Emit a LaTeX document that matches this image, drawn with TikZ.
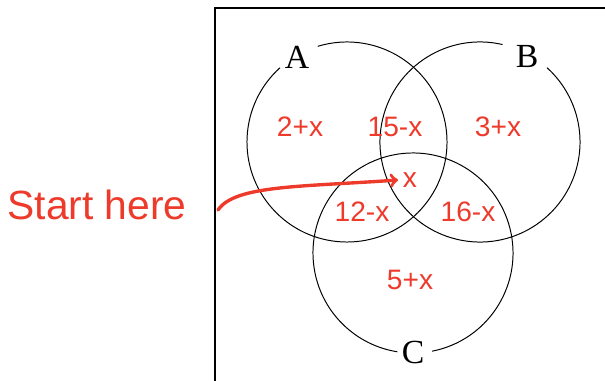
\documentclass[tikz,border=0pt]{standalone}
\usepackage{fontspec}
\setmainfont{Liberation Serif}
\setsansfont{Liberation Sans}
\definecolor{pen}{RGB}{238,58,42}
\tikzset{
  setlabel/.style={font=\fontsize{24}{28}\selectfont},
  scrawl/.style={text=pen, font=\sffamily\fontsize{20}{24}\selectfont},
  ring/.style={line width=0.7pt},
}
\begin{document}
\begin{tikzpicture}[x=0.025cm, y=0.025cm]
\useasboundingbox (0,0) rectangle (605,381);
% universal set box
\draw[line width=0.9pt] (610,373) -- (215,373) -- (215,-5);
% the three sets, each broken where its name sits
\draw[ring] (347,239) ++(132:2.5cm) arc[start angle=132, end angle=467, radius=2.5cm];
\draw[ring] (480,239) ++(77:2.5cm) arc[start angle=77, end angle=408, radius=2.5cm];
\draw[ring] (413,128) ++(281:2.5cm) arc[start angle=281, end angle=621, radius=2.5cm];
\node[setlabel] (A) at (297,324) {A};
\node[setlabel] (B) at (527,324) {B};
\node[setlabel] (C) at (413,29) {C};
% region counts
\node[scrawl] (onlyA) at (300,254) {2+x};
\node[scrawl] (AB) at (395,254) {15-x};
\node[scrawl] (onlyB) at (498,254) {3+x};
\node[scrawl] (ABC) at (410,201) {x};
\node[scrawl] (AC) at (362,169) {12-x};
\node[scrawl] (BC) at (468,169) {16-x};
\node[scrawl] (onlyC) at (410,101) {5+x};
\node[scrawl, font=\sffamily\fontsize{29}{32}\selectfont] (start) at (97,176) {Start here};
\coordinate (tail) at (218,171);
\draw[->, pen, line width=2.4pt, line cap=round] (tail) .. controls (235,196) and (300,194) .. (ABC.west);
\end{tikzpicture}
\end{document}
